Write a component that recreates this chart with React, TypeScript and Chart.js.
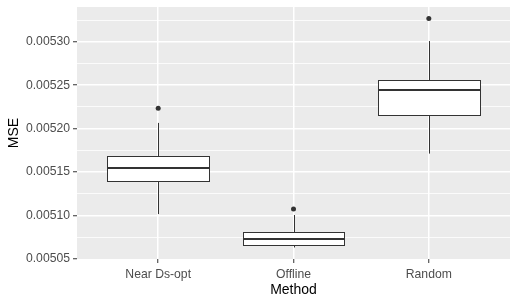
import { useEffect, useRef } from 'react';
import { Chart, registerables } from 'chart.js';

Chart.register(...registerables);

const categories = ['Near Ds-opt', 'Offline', 'Random'];
const lowerWhisker = [0.0051017, 0.0050633, 0.0051713];
const q1 = [0.0051396, 0.0050661, 0.0052154];
const median = [0.0051552, 0.0050725, 0.0052449];
const q3 = [0.0051683, 0.005081, 0.0052557];
const upperWhisker = [0.0052066, 0.0051006, 0.0053008];
const outliers = [[0.0052235], [0.0051074], [0.0053269]];
const yMajorTicks = [0.00505, 0.0051, 0.00515, 0.0052, 0.00525, 0.0053];
const yMinorTicks = [0.005075, 0.005125, 0.005175, 0.005225, 0.005275, 0.005325];

const FONT = "'Liberation Sans', Arial, sans-serif";
const BOX_HALF = 0.375;

const panelBg = {
  id: 'panelBg',
  beforeDraw(chart: any) {
    const { ctx, chartArea: a } = chart;
    ctx.save();
    ctx.fillStyle = '#EBEBEB';
    ctx.fillRect(a.left, a.top, a.right - a.left, a.bottom - a.top);
    ctx.restore();
  },
};

const boxes = {
  id: 'boxes',
  beforeDatasetsDraw(chart: any) {
    const { ctx } = chart;
    const xs = chart.scales.x;
    const ys = chart.scales.y;
    const r = (v: number) => Math.round(v) + 0.5;
    ctx.save();
    ctx.strokeStyle = '#333333';
    categories.forEach((_, i) => {
      const cx = r(xs.getPixelForValue(i + 1));
      const xl = r(xs.getPixelForValue(i + 1 - BOX_HALF));
      const xr = r(xs.getPixelForValue(i + 1 + BOX_HALF));
      const yLo = ys.getPixelForValue(lowerWhisker[i]);
      const yQ1 = r(ys.getPixelForValue(q1[i]));
      const yMed = Math.round(ys.getPixelForValue(median[i]));
      const yQ3 = r(ys.getPixelForValue(q3[i]));
      const yHi = ys.getPixelForValue(upperWhisker[i]);
      ctx.lineWidth = 1;
      ctx.beginPath();
      ctx.moveTo(cx, yQ3);
      ctx.lineTo(cx, yHi);
      ctx.moveTo(cx, yQ1);
      ctx.lineTo(cx, yLo);
      ctx.stroke();
      ctx.fillStyle = '#FFFFFF';
      ctx.fillRect(xl, yQ3, xr - xl, yQ1 - yQ3);
      ctx.strokeRect(xl, yQ3, xr - xl, yQ1 - yQ3);
      ctx.lineWidth = 2;
      ctx.beginPath();
      ctx.moveTo(xl, yMed);
      ctx.lineTo(xr, yMed);
      ctx.stroke();
    });
    ctx.restore();
  },
};

export default function App() {
  const ref = useRef<HTMLCanvasElement>(null);
  useEffect(() => {
    document.body.style.margin = '0';
    const yTicks: number[] = [];
    yMajorTicks.forEach((v, i) => {
      yTicks.push(v);
      yTicks.push(yMinorTicks[i]);
    });
    const chart = new Chart(ref.current!, {
      type: 'scatter',
      data: {
        datasets: [
          {
            data: outliers.flatMap((arr, i) => arr.map((v) => ({ x: i + 1, y: v }))),
            pointRadius: 2.5,
            pointBackgroundColor: '#333333',
            pointBorderWidth: 0,
            pointHoverRadius: 2.5,
          },
        ],
      },
      options: {
        animation: false,
        responsive: false,
        maintainAspectRatio: false,
        layout: { padding: { left: 0, right: 8, top: 7, bottom: 0 } },
        plugins: { legend: { display: false }, tooltip: { enabled: false } },
        events: [],
        scales: {
          x: {
            type: 'linear',
            min: 0.4,
            max: 3.6,
            afterBuildTicks: (s: any) => {
              s.ticks = categories.map((_, i) => ({ value: i + 1 }));
            },
            afterFit: (s: any) => {
              s.height = 47;
              s.paddingLeft = 0;
              s.paddingRight = 0;
            },
            ticks: {
              autoSkip: false,
              maxRotation: 0,
              padding: 4,
              color: '#4D4D4D',
              font: { family: FONT, size: 12.2 },
              callback: (v: any) => categories[Math.round(Number(v)) - 1] ?? '',
            },
            grid: {
              color: '#FFFFFF',
              lineWidth: 1.5,
              tickColor: '#333333',
              tickLength: 4,
              tickWidth: 1,
            },
            border: { display: false },
            title: {
              display: true,
              text: 'Method',
              color: '#000000',
              font: { family: FONT, size: 14 },
              padding: { top: 0, bottom: 7 },
            },
          },
          y: {
            type: 'linear',
            min: 0.00505,
            max: 0.00534,
            afterBuildTicks: (s: any) => {
              s.ticks = yTicks.map((v) => ({ value: v }));
            },
            afterFit: (s: any) => {
              s.width = 77;
              s.paddingTop = 0;
              s.paddingBottom = 0;
            },
            ticks: {
              autoSkip: false,
              padding: 3,
              color: '#4D4D4D',
              font: { family: FONT, size: 12.2 },
              callback: (v: any, i: number) => (i % 2 === 0 ? Number(v).toFixed(5) : ''),
            },
            grid: {
              color: (c: any) => (c.index === 0 ? 'rgba(0,0,0,0)' : '#FFFFFF'),
              lineWidth: (c: any) => (c.index % 2 === 0 ? 1.5 : 0.8),
              tickColor: (c: any) => (c.index % 2 === 0 ? '#333333' : 'rgba(0,0,0,0)'),
              tickLength: 4,
              tickWidth: 1,
            },
            border: { display: false },
            title: {
              display: true,
              text: 'MSE',
              color: '#000000',
              font: { family: FONT, size: 14 },
              padding: { top: 5.5, bottom: 0 },
            },
          },
        },
      },
      plugins: [panelBg, boxes],
    });
    return () => chart.destroy();
  }, []);
  return (
    <div style={{ width: 518, height: 306 }}>
      <canvas ref={ref} width={518} height={306} />
    </div>
  );
}
